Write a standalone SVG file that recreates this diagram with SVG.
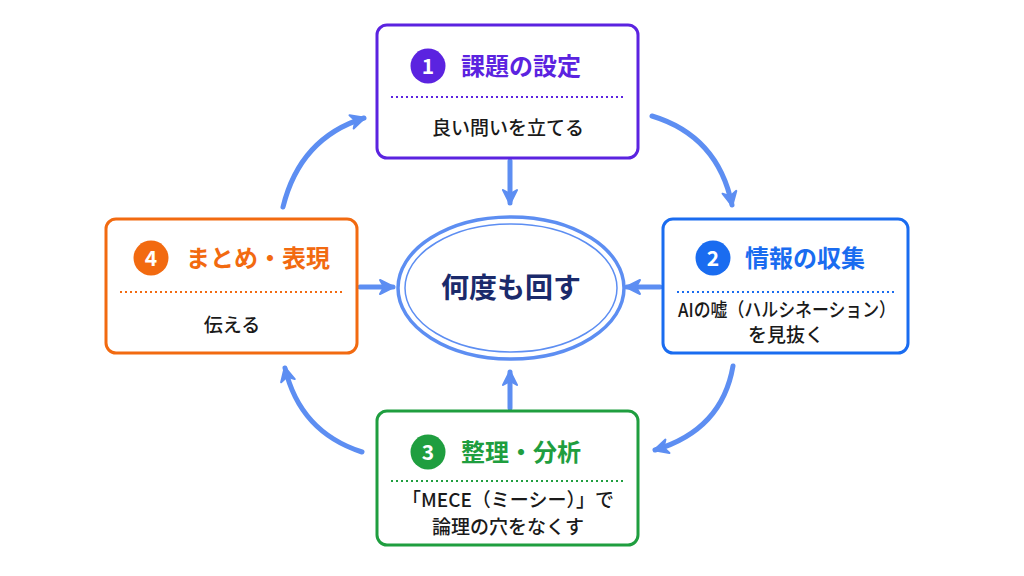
<svg xmlns="http://www.w3.org/2000/svg" width="1024" height="576" viewBox="0 0 1024 576">
<style>
text{font-family:"Noto Sans CJK JP","Noto Sans",sans-serif;}
.box{fill:#fff;stroke-width:3;}
.title{font-size:24px;font-weight:700;}
.num{font-size:21px;font-weight:700;fill:#fff;text-anchor:middle;}
.sub{font-size:19px;font-weight:500;fill:#1a1a1a;text-anchor:middle;}
.dot{stroke-width:2;stroke-dasharray:2 3;fill:none;}
.conn{fill:none;stroke:#5d8ef2;stroke-width:5;stroke-linecap:round;marker-end:url(#ah);}
</style>
<defs>
<marker id="ah" viewBox="0 0 20 20" refX="16" refY="10" markerWidth="20" markerHeight="20" markerUnits="userSpaceOnUse" orient="auto">
<path d="M3,3 L17,10 L3,17 L7,10 Z" fill="#5d8ef2" stroke="#5d8ef2" stroke-width="2" stroke-linejoin="round"/>
</marker>
</defs>
<rect width="1024" height="576" fill="#fff"/>
<g id="connectors">
<path class="conn" d="M510,161 L510,203"/>
<path class="conn" d="M360,287 L393,287"/>
<path class="conn" d="M660,287 L627,287"/>
<path class="conn" d="M510,408 L510,372"/>
<path class="conn" d="M283,207 Q300,138 364,118"/>
<path class="conn" d="M652,116 Q718,136 732,205"/>
<path class="conn" d="M733,366 Q722,430 655,450"/>
<path class="conn" d="M362,452 Q300,432 285,368"/>
</g>
<g id="center">
<ellipse cx="511" cy="288" rx="113" ry="71" fill="#fff" stroke="#5d8ef2" stroke-width="3.5"/>
<ellipse cx="511" cy="288" rx="106" ry="64" fill="none" stroke="#5d8ef2" stroke-width="1.5"/>
<text x="511" y="298" font-size="28" font-weight="700" fill="#1b2a6b" text-anchor="middle">何度も回す</text>
</g>
<g id="node1">
<rect class="box" x="377" y="25" width="261" height="133" rx="10" stroke="#5b23e0"/>
<circle cx="428" cy="66" r="17.5" fill="#5b23e0"/>
<text class="num" x="428" y="73.5">1</text>
<text class="title" x="461" y="75" fill="#5b23e0">課題の設定</text>
<line class="dot" x1="391" y1="97" x2="625" y2="97" stroke="#5b23e0"/>
<text class="sub" x="508" y="135">良い問いを立てる</text>
</g>
<g id="node2">
<rect class="box" x="663" y="219" width="245" height="134" rx="10" stroke="#1a6cf0"/>
<circle cx="713" cy="258" r="17.5" fill="#1a6cf0"/>
<text class="num" x="713" y="265.5">2</text>
<text class="title" x="745" y="267" fill="#1a6cf0">情報の収集</text>
<line class="dot" x1="677" y1="292" x2="895" y2="292" stroke="#1a6cf0"/>
<text class="sub" x="787" y="317" font-size="17" textLength="218" lengthAdjust="spacingAndGlyphs">AIの嘘（ハルシネーション）</text>
<text class="sub" x="786" y="342">を見抜く</text>
</g>
<g id="node3">
<rect class="box" x="377" y="411" width="261" height="134" rx="10" stroke="#1f9e3f"/>
<circle cx="428" cy="452" r="17.5" fill="#1f9e3f"/>
<text class="num" x="428" y="459.5">3</text>
<text class="title" x="461" y="461" fill="#1f9e3f">整理・分析</text>
<line class="dot" x1="391" y1="481" x2="625" y2="481" stroke="#1f9e3f"/>
<text class="sub" x="508" y="507">「MECE（ミーシー）」で</text>
<text class="sub" x="508" y="534">論理の穴をなくす</text>
</g>
<g id="node4">
<rect class="box" x="106" y="219" width="251" height="134" rx="10" stroke="#f26a10"/>
<circle cx="151" cy="258" r="17.5" fill="#f26a10"/>
<text class="num" x="151" y="265.5">4</text>
<text class="title" x="186" y="267" fill="#f26a10">まとめ・表現</text>
<line class="dot" x1="120" y1="292" x2="343" y2="292" stroke="#f26a10"/>
<text class="sub" x="232" y="332">伝える</text>
</g>
</svg>
